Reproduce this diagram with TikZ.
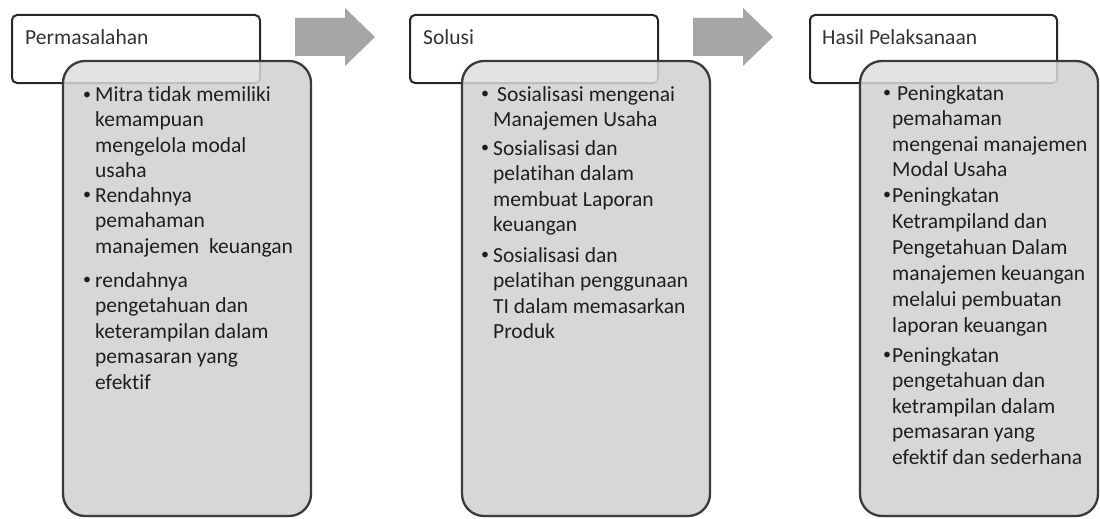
\documentclass[tikz,border=0pt]{standalone}
\usepackage{fontspec}
\setmainfont{Carlito}[Ligatures={NoCommon}]
\definecolor{bodyfill}{HTML}{D2D2D2}
\definecolor{bodyline}{HTML}{3A3A3A}
\definecolor{headline}{HTML}{262626}
\definecolor{arrowfill}{HTML}{A6A6A6}
\definecolor{headtext}{HTML}{333333}
\definecolor{bodytext}{HTML}{1E1E1E}
\tikzset{
  headbox/.style={draw=headline, line width=2pt, fill=white, rounded corners=5pt},
  bodyfillst/.style={fill=bodyfill, fill opacity=0.88, draw=none, rounded corners=22pt},
  bodyedge/.style={draw=bodyline, line width=2.3pt, rounded corners=22pt},
  overlay/.style={fill=white, fill opacity=0.3, draw=none},
  blockarrow/.style={fill=arrowfill, draw=none},
  headlabel/.style={anchor=base west, inner sep=0pt, text=headtext, font=\fontsize{21.5}{25.5}\selectfont},
  itemtext/.style={anchor=base west, inner sep=0pt, align=left, text=bodytext, font=\fontsize{21.5}{25.5}\selectfont},
  bul/.style={anchor=center, inner sep=0pt, text=bodytext, font=\fontsize{16}{16}\selectfont},
}
\begin{document}
\begin{tikzpicture}[x=1pt,y=-1pt]
\useasboundingbox (0,0) rectangle (1100,519);

% ---------- Column 1 ----------
\draw[headbox] (12,15) rectangle (260,83);
\fill[bodyfillst] (63,61) rectangle (311,516);
\fill[overlay] (63,61) rectangle (259,82);
\draw[bodyedge] (63,61) rectangle (311,516);
\node[headlabel] (h1) at (25,45) {Permasalahan};
\node[bul] (b11) at (87,96) {•};
\node[itemtext] (t11) at (95,177.5) {Mitra tidak memiliki\\kemampuan\\mengelola modal\\usaha};
\node[bul] (b12) at (87,196) {•};
\node[itemtext] (t12) at (95,253) {Rendahnya\\pemahaman\\manajemen~ keuangan};
\node[bul] (b13) at (87,281) {•};
\node[itemtext] (t13) at (95,389) {rendahnya\\pengetahuan dan\\keterampilan dalam\\pemasaran yang\\efektif};

% ---------- Arrow 1 ----------
\fill[blockarrow] (295,18) -- (345,18) -- (345,8) -- (375,37) -- (345,66) -- (345,56) -- (295,56) -- cycle;

% ---------- Column 2 ----------
\draw[headbox] (410,15) rectangle (658,83);
\fill[bodyfillst] (462,61) rectangle (710,516);
\fill[overlay] (462,61) rectangle (657,82);
\draw[bodyedge] (462,61) rectangle (710,516);
\node[headlabel] (h2) at (423,45) {Solusi};
\node[bul] (b21) at (485,95) {•};
\node[itemtext] (t21) at (493,126.5) {\hspace{4pt}Sosialisasi mengenai\\Manajemen Usaha};
\node[bul] (b22) at (485,149) {•};
\node[itemtext] (t22) at (493,231.5) {Sosialisasi dan\\pelatihan dalam\\membuat Laporan\\keuangan};
\node[bul] (b23) at (485,256) {•};
\node[itemtext] (t23) at (493,338.5) {Sosialisasi dan\\pelatihan penggunaan\\TI dalam memasarkan\\Produk};

% ---------- Arrow 2 ----------
\fill[blockarrow] (693,18) -- (743,18) -- (743,8) -- (773,37) -- (743,66) -- (743,56) -- (693,56) -- cycle;

% ---------- Column 3 ----------
\draw[headbox] (810,15) rectangle (1057,83);
\fill[bodyfillst] (860,61) rectangle (1098,516);
\fill[overlay] (860,61) rectangle (1056,82);
\draw[bodyedge] (860,61) rectangle (1098,516);
\node[headlabel] (h3) at (822,45) {Hasil Pelaksanaan};
\node[bul] (b31) at (887,94) {•};
\node[itemtext] (t31) at (892,176.5) {\hspace{5pt}Peningkatan\\pemahaman\\mengenai manajemen\\Modal Usaha};
\node[bul] (b32) at (887,196) {•};
\node[itemtext, font=\fontsize{21.5}{26}\selectfont] (t32) at (892,332) {Peningkatan\\Ketrampiland dan\\Pengetahuan Dalam\\manajemen keuangan\\melalui pembuatan\\laporan keuangan};
\node[bul] (b33) at (887,356) {•};
\node[itemtext] (t33) at (892,464) {Peningkatan\\pengetahuan dan\\ketrampilan dalam\\pemasaran yang\\efektif dan sederhana};
\end{tikzpicture}
\end{document}
